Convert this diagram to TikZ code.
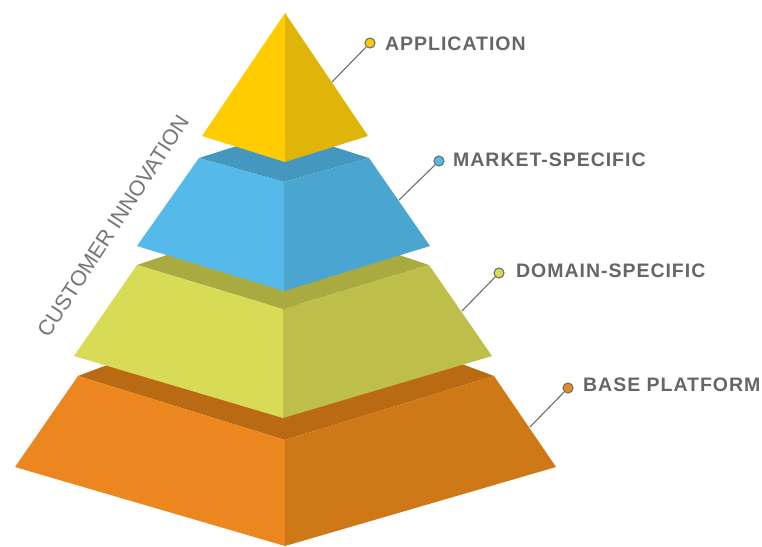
\documentclass[tikz,border=0pt]{standalone}
\usepackage{fontspec}
\setmainfont{Liberation Sans}
\newfontfamily\lblfont[LetterSpace=5]{Liberation Sans}
\definecolor{yelL}{HTML}{FFCC00}
\definecolor{yelR}{HTML}{DEB508}
\definecolor{bluL}{HTML}{55BAEA}
\definecolor{bluR}{HTML}{4AA5D0}
\definecolor{bluT}{HTML}{4497BF}
\definecolor{grnL}{HTML}{D7DB55}
\definecolor{grnR}{HTML}{BDBF4A}
\definecolor{grnT}{HTML}{A9AB41}
\definecolor{orgL}{HTML}{EB871E}
\definecolor{orgR}{HTML}{CF7818}
\definecolor{orgT}{HTML}{BA6A12}
\definecolor{txtgray}{HTML}{666666}
\definecolor{linegray}{HTML}{6E6E6E}
\tikzset{
  lead/.style={draw=linegray, line width=1.1pt},
  dotnode/.style={circle, draw=linegray, line width=1.1pt, fill=#1, minimum size=10pt, inner sep=0pt},
  lbl/.style={text=txtgray, font=\lblfont\bfseries\fontsize{19.5}{22}\selectfont, inner sep=0pt, anchor=base west},
  sidetext/.style={text=txtgray!90, font=\fontsize{21.5}{24}\selectfont, inner sep=0pt, rotate=57}
}
\begin{document}
\begin{tikzpicture}[x=1pt,y=-1pt]
\useasboundingbox (0,0) rectangle (762,546);
% base tier (orange)
\fill[orgT] (78,376) -- (285,298) -- (494,376) -- (285,440) -- cycle;
\fill[orgL] (78,376) -- (285,440) -- (285,546) -- (15,467) -- cycle;
\fill[orgR] (494,376) -- (285,440) -- (285,546) -- (556,467) -- cycle;
% domain tier (green)
\fill[grnT] (137,265) -- (283,216) -- (429,265) -- (283,309) -- cycle;
\fill[grnL] (137,265) -- (283,309) -- (283,418) -- (74,356) -- cycle;
\fill[grnR] (429,265) -- (283,309) -- (283,418) -- (492,356) -- cycle;
% market tier (blue)
\fill[bluT] (199,158) -- (284,131) -- (369,158) -- (284,182) -- cycle;
\fill[bluL] (199,158) -- (284,182) -- (284,291) -- (137,246) -- cycle;
\fill[bluR] (369,158) -- (284,182) -- (284,291) -- (430,246) -- cycle;
% application (yellow)
\fill[yelL] (285,13) -- (202,136) -- (285,162) -- cycle;
\fill[yelR] (285,13) -- (368,136) -- (285,162) -- cycle;

% side text
\node[sidetext] (side) at (113,226) {CUSTOMER INNOVATION};

% labels
\coordinate (eA) at (332,82);
\node[dotnode=yelL] (dA) at (370,43) {};
\draw[lead] (eA) -- (dA);
\node[lbl] (tA) at (385,50.7) {APPLICATION};

\coordinate (eM) at (399,200);
\node[dotnode=bluL] (dM) at (439,161) {};
\draw[lead] (eM) -- (dM);
\node[lbl] (tM) at (453,166.7) {MARKET-SPECIFIC};

\coordinate (eD) at (462,311);
\node[dotnode=grnL] (dD) at (499,273) {};
\draw[lead] (eD) -- (dD);
\node[lbl] (tD) at (516,277.3) {DOMAIN-SPECIFIC};

\coordinate (eB) at (530,427);
\node[dotnode=orgL] (dB) at (568,388) {};
\draw[lead] (eB) -- (dB);
\node[lbl] (tB) at (583,391.7) {BASE PLATFORM};
\end{tikzpicture}
\end{document}
